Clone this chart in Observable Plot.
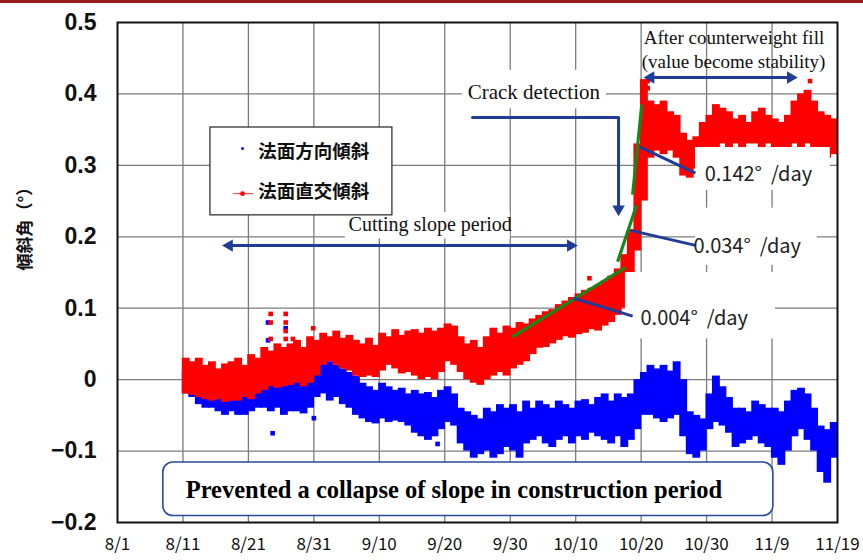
<!DOCTYPE html>
<html><head><meta charset="utf-8">
<script src="https://cdn.jsdelivr.net/npm/d3@7"></script>
<script src="https://cdn.jsdelivr.net/npm/@observablehq/plot@0.6"></script>
<style>
html,body{margin:0;padding:0;background:#fff;}
#wrap{position:relative;width:863px;height:560px;}
#topbar{position:absolute;left:0;top:0;width:863px;height:3px;background:#991b1e;}
</style></head><body><div id="wrap"><div id="chart"></div><div id="topbar"></div></div>
<script>
// ---- axis ticks (x = days since 8/1) ----
const xTicks = [0,10,20,30,40,50,60,70,80,90,100,110];
const xTickLabels = ["8/1","8/11","8/21","8/31","9/10","9/20","9/30","10/10","10/20","10/30","11/9","11/19"];
const yTicks = [-0.2,-0.1,0,0.1,0.2,0.3,0.4,0.5];
const yTickLabels = ["\u22120.2","\u22120.1","0","0.1","0.2","0.3","0.4","0.5"];

// ---- data: daily range of readings, day 10 (8/11) .. day 109 ----
const startDay = 10;
// 法面直交傾斜 (red)
const redHi = [
 0.030,0.025,0.030,0.020,0.025,0.015,0.022,0.025,0.030,0.020,
 0.035,0.030,0.045,0.040,0.050,0.045,0.050,0.055,0.045,0.060,
 0.055,0.065,0.060,0.068,0.058,0.062,0.055,0.050,0.058,0.048,
 0.065,0.060,0.070,0.062,0.068,0.070,0.065,0.072,0.068,0.072,
 0.078,0.075,0.060,0.050,0.055,0.045,0.060,0.072,0.065,0.075,
 0.072,0.080,0.078,0.085,0.090,0.095,0.098,0.105,0.110,0.115,
 0.120,0.125,0.128,0.132,0.138,0.145,0.155,0.175,0.210,0.330,
 0.420,0.390,0.385,0.390,0.375,0.370,0.345,0.335,0.340,0.360,
 0.370,0.385,0.380,0.375,0.365,0.370,0.360,0.375,0.380,0.370,
 0.365,0.360,0.370,0.390,0.400,0.405,0.390,0.375,0.370,0.365];
const redLo = [
 -0.020,-0.022,-0.025,-0.028,-0.030,-0.028,-0.032,-0.030,-0.030,-0.025,
 -0.028,-0.020,-0.015,-0.010,-0.012,-0.010,-0.008,-0.005,-0.010,-0.005,
 0.005,0.020,0.025,0.020,0.015,0.012,0.005,0.003,0.005,0.003,
 0.012,0.020,0.015,0.008,0.010,0.005,0.000,0.003,0.000,0.010,
 0.025,0.020,0.010,0.000,-0.005,-0.008,0.000,0.005,0.010,0.005,
 0.015,0.020,0.025,0.035,0.044,0.045,0.050,0.055,0.060,0.058,
 0.063,0.065,0.070,0.068,0.075,0.080,0.090,0.100,0.130,0.180,
 0.250,0.310,0.320,0.315,0.320,0.310,0.285,0.282,0.295,0.310,
 0.320,0.325,0.330,0.325,0.330,0.325,0.330,0.330,0.325,0.330,
 0.320,0.325,0.320,0.330,0.325,0.330,0.320,0.315,0.310,0.315];
// 法面方向傾斜 (blue)
const blueHi = [
 0.010,0.005,0.000,-0.005,0.000,-0.010,-0.005,-0.010,-0.005,-0.010,
 0.000,0.005,0.000,0.005,0.010,0.005,0.000,0.010,0.005,0.015,
 0.015,0.022,0.025,0.020,0.015,0.010,0.005,-0.005,-0.010,-0.015,
 -0.005,-0.010,-0.015,-0.012,-0.020,-0.015,-0.020,-0.018,-0.025,-0.015,
 -0.010,-0.020,-0.040,-0.045,-0.050,-0.055,-0.040,-0.045,-0.035,-0.040,
 -0.035,-0.045,-0.030,-0.040,-0.030,-0.035,-0.040,-0.030,-0.035,-0.040,
 -0.030,-0.028,-0.035,-0.025,-0.020,-0.030,-0.020,-0.025,-0.020,0.000,
 0.010,0.020,0.015,0.020,0.012,0.025,0.000,-0.045,-0.050,-0.055,
 -0.020,0.005,-0.010,-0.025,-0.040,-0.040,-0.045,-0.030,-0.035,-0.040,
 -0.040,-0.045,-0.030,-0.015,-0.012,-0.020,-0.040,-0.065,-0.070,-0.060];
const blueLo = [
 -0.020,-0.025,-0.035,-0.040,-0.040,-0.045,-0.050,-0.045,-0.050,-0.050,
 -0.045,-0.040,-0.040,-0.045,-0.040,-0.050,-0.045,-0.045,-0.048,-0.040,
 -0.025,-0.020,-0.030,-0.025,-0.035,-0.040,-0.050,-0.055,-0.060,-0.062,
 -0.055,-0.060,-0.058,-0.060,-0.065,-0.075,-0.080,-0.085,-0.080,-0.070,
 -0.060,-0.065,-0.090,-0.100,-0.110,-0.105,-0.100,-0.110,-0.105,-0.095,
 -0.100,-0.110,-0.090,-0.085,-0.080,-0.090,-0.095,-0.085,-0.080,-0.090,
 -0.080,-0.085,-0.075,-0.080,-0.085,-0.090,-0.080,-0.095,-0.085,-0.070,
 -0.050,-0.050,-0.055,-0.060,-0.055,-0.050,-0.080,-0.105,-0.110,-0.100,
 -0.070,-0.060,-0.065,-0.075,-0.095,-0.090,-0.085,-0.080,-0.090,-0.095,
 -0.110,-0.120,-0.100,-0.080,-0.070,-0.085,-0.100,-0.130,-0.145,-0.110];
// isolated readings
const redOutDay = [23.4,23.4,23.4,25.7,25.7,25.7,25.7,26.8,29.9,72.1,81.0,81.0,105.8];
const redOutVal = [0.092,0.080,0.057,0.092,0.080,0.068,0.057,0.057,0.072,0.142,0.418,0.408,0.418];
const blueOutDay = [23.0,23.0,25.7,23.7,30.0,48.9];
const blueOutVal = [0.080,0.055,0.072,-0.075,-0.054,-0.090];

// ---- annotations (data units) ----
const seriesNames = ["法面方向傾斜","法面直交傾斜"];
const rateLabels = ["0.142°  /day","0.034°  /day","0.004°  /day"];
const rateLabelX = [89.7, 88.0, 79.9];
const rateLabelY = [0.287, 0.186, 0.085];
const trendX1 = [60.35, 76.4, 78.7], trendY1 = [0.060, 0.165, 0.259];
const trendX2 = [77.6, 79.3, 80.1],  trendY2 = [0.157, 0.244, 0.385];
const leaderX1 = [79.8, 78.4, 69.7], leaderY1 = [0.326, 0.209, 0.114];
const leaderX2 = [88.3, 88.3, 78.7], leaderY2 = [0.289, 0.188, 0.089];
const maskX1 = [88.3, 88.3, 77.6, 34.8, 52.7], maskX2 = [108.9, 106.9, 100.5, 60.0, 74.7];
const maskY1 = [0.265, 0.160, 0.057, 0.197, 0.379], maskY2 = [0.325, 0.240, 0.150, 0.234, 0.433];
const crackPathX = [54.24, 76.55, 76.55], crackPathY = [0.367, 0.367, 0.236];
const crackTip = {x: 76.55, y: 0.229};
const cutArrow = {x1: 16.0, x2: 70.3, y: 0.1877, label: "Cutting slope period", lx: 35.3, ly: 0.217};
const cwArrow = {x1: 80.4, x2: 103.9, y: 0.423};
const cwText = ["After counterweight fill", "(value become stability)"];
const cwTextX = [80.4, 80.1], cwTextY = [0.479, 0.445];
const crackText = {text: "Crack detection", x: 53.5, y: 0.402};
const noteBox = {x1: 7.0, x2: 100.2, y1: -0.191, y2: -0.116, text: "Prevented a collapse of slope in construction period", tx: 51.4, ty: -0.155};
const legendBox = {x1: 14.2, x2: 42.0, y1: 0.230, y2: 0.353};

// ---- build tables ----
const redRows = redHi.map((hi, i) => ({day: startDay + i, lo: redLo[i], hi}));
const blueRows = blueHi.map((hi, i) => ({day: startDay + i, lo: blueLo[i], hi}));
const redOut = redOutDay.map((d, i) => ({day: d, v: redOutVal[i]}));
const blueOut = blueOutDay.map((d, i) => ({day: d, v: blueOutVal[i]}));
const trends = trendX1.map((x, i) => ({x1: x, y1: trendY1[i], x2: trendX2[i], y2: trendY2[i]}));
const leaders = leaderX1.map((x, i) => ({x1: x, y1: leaderY1[i], x2: leaderX2[i], y2: leaderY2[i]}));
const masks = maskX1.map((x, i) => ({x1: x, x2: maskX2[i], y1: maskY1[i], y2: maskY2[i]}));
const rates = rateLabels.map((t, i) => ({t, x: rateLabelX[i], y: rateLabelY[i]}));
const crackPath = crackPathX.map((x, i) => ({x, y: crackPathY[i]}));

const RED = "#ff0000", BLUE = "#0000ff", NAVY = "#1f3d96", GREEN = "#12891a", GRID = "#7c7c7c";
const SERIF = "Liberation Serif, Times New Roman, serif";
const GOTH = "Noto Sans CJK JP, sans-serif";

const chart = Plot.plot({
  width: 863, height: 560,
  marginLeft: 117, marginRight: 26, marginTop: 22, marginBottom: 38,
  x: {domain: [0, 110], axis: null},
  y: {domain: [-0.2, 0.5], axis: null},
  style: {background: "#fff", overflow: "visible"},
  marks: [
    Plot.ruleX(xTicks.slice(1, -1), {stroke: GRID, strokeWidth: 1.3}),
    Plot.ruleY(yTicks.slice(1, -1), {stroke: GRID, strokeWidth: 1.3}),
    Plot.rect(blueRows, {x1: d => d.day - 0.1, x2: d => d.day + 1.1, y1: "lo", y2: "hi", fill: BLUE}),
    Plot.dot(blueOut, {x: "day", y: "v", symbol: "square", r: 2.6, fill: BLUE}),
    Plot.rect(redRows, {x1: d => d.day - 0.1, x2: d => d.day + 1.1, y1: "lo", y2: "hi", fill: RED}),
    Plot.dot(redOut, {x: "day", y: "v", symbol: "square", r: 2.6, fill: RED}),
    Plot.rect(masks, {x1: "x1", x2: "x2", y1: "y1", y2: "y2", fill: "#fff"}),
    Plot.frame({stroke: "#111", strokeWidth: 2}),
    // legend
    Plot.rect([legendBox], {x1: "x1", x2: "x2", y1: "y1", y2: "y2", fill: "#fff", stroke: "#222", strokeWidth: 1.2}),
    Plot.ruleY([0.2604], {x1: 17.7, x2: 20.8, stroke: RED, strokeWidth: 0.8}),
    Plot.dot([{x: 19.1, y: 0.2604}], {x: "x", y: "y", r: 2.4, fill: RED}),
    Plot.dot([{x: 19.1, y: 0.3235}], {x: "x", y: "y", r: 1.5, fill: BLUE}),
    Plot.text(seriesNames, {x: 21.5, y: (d, i) => [0.318, 0.263][i], text: d => d, textAnchor: "start", fontFamily: GOTH, fontWeight: "bold", fontSize: 18.5, fill: "#111"}),
    // trend lines
    Plot.link(trends, {x1: "x1", y1: "y1", x2: "x2", y2: "y2", stroke: GREEN, strokeWidth: 3.2}),
    // leaders
    Plot.link(leaders, {x1: "x1", y1: "y1", x2: "x2", y2: "y2", stroke: NAVY, strokeWidth: 3}),
    Plot.text(rates, {x: "x", y: "y", text: "t", textAnchor: "start", fontFamily: GOTH, fontSize: 20, fill: "#222"}),
    // crack detection
    Plot.line(crackPath, {x: "x", y: "y", stroke: NAVY, strokeWidth: 3}),
    Plot.dot([crackTip], {x: "x", y: "y", symbol: "triangle", r: 4.6, rotate: 180, dy: -7, fill: NAVY}),
    Plot.text([crackText], {x: "x", y: "y", text: "text", textAnchor: "start", fontFamily: SERIF, fontSize: 21, fill: "#111"}),
    // cutting slope period
    Plot.ruleY([cutArrow], {y: "y", x1: d => d.x1 + 1, x2: d => d.x2 - 1, stroke: NAVY, strokeWidth: 3}),
    Plot.dot([cutArrow], {x: "x1", y: "y", symbol: "triangle", r: 4.6, rotate: -90, dx: 7, fill: NAVY}),
    Plot.dot([cutArrow], {x: "x2", y: "y", symbol: "triangle", r: 4.6, rotate: 90, dx: -7, fill: NAVY}),
    Plot.text([cutArrow], {x: "lx", y: "ly", text: "label", textAnchor: "start", fontFamily: SERIF, fontSize: 20, fill: "#111"}),
    // counterweight
    Plot.ruleY([cwArrow], {y: "y", x1: d => d.x1 + 1, x2: d => d.x2 - 1, stroke: NAVY, strokeWidth: 3}),
    Plot.dot([cwArrow], {x: "x1", y: "y", symbol: "triangle", r: 4.6, rotate: -90, dx: 7, fill: NAVY}),
    Plot.dot([cwArrow], {x: "x2", y: "y", symbol: "triangle", r: 4.6, rotate: 90, dx: -7, fill: NAVY}),
    Plot.text(cwText, {x: (d, i) => cwTextX[i], y: (d, i) => cwTextY[i], text: d => d, textAnchor: "start", fontFamily: SERIF, fontSize: 19, fill: "#111"}),
    // note box
    Plot.rect([noteBox], {x1: "x1", x2: "x2", y1: "y1", y2: "y2", fill: "#fff", stroke: "#2a4a9c", strokeWidth: 1.6, rx: 10}),
    Plot.text([noteBox], {x: "tx", y: "ty", text: "text", fontFamily: SERIF, fontWeight: "bold", fontSize: 24.5, fill: "#000"}),
    // tick labels
    Plot.text(xTicks, {x: d => d, frameAnchor: "bottom", dy: 27, text: (d, i) => xTickLabels[i], fontFamily: GOTH, fontSize: 17, fill: "#111"}),
    Plot.text(yTicks, {y: d => d, frameAnchor: "left", dx: -21, textAnchor: "end", text: (d, i) => yTickLabels[i], fontFamily: "Liberation Sans, Arial, sans-serif", fontWeight: "bold", fontSize: 23, fill: "#111"}),
    Plot.text(["傾斜角（°）"], {frameAnchor: "left", dx: -92, dy: -2, rotate: -90, text: d => d, fontFamily: GOTH, fontWeight: "bold", fontSize: 17, fill: "#111"})
  ]
});
document.getElementById("chart").appendChild(chart);
</script></body></html>
